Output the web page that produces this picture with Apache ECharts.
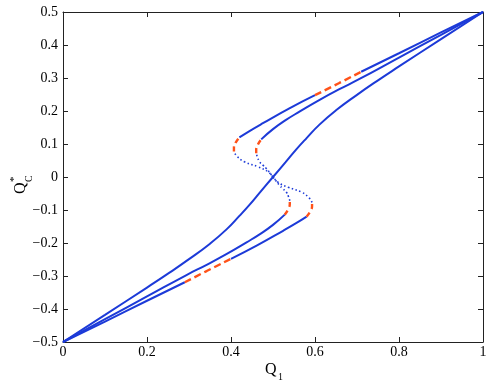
<!DOCTYPE html>
<html>
<head>
<meta charset="utf-8">
<script src="https://cdn.jsdelivr.net/npm/echarts@6/dist/echarts.min.js"></script>
<style>
  html, body { margin: 0; padding: 0; background: #fff; }
  #chart { width: 491px; height: 385px; }
</style>
</head>
<body>
<div id="chart"></div>
<script>
// ticks
const xTicks = [0, 0.2, 0.4, 0.6, 0.8, 1]
const yTicks = [-0.5, -0.4, -0.3, -0.2, -0.1, 0, 0.1, 0.2, 0.3, 0.4, 0.5]

// curve A (monotonic S), pairs of [Q1, Qc*]
const curveA = [[0, -0.5], [0.1, -0.418], [0.2, -0.335], [0.25, -0.293], [0.3, -0.249], [0.35, -0.202], [0.39, -0.158], [0.42, -0.118], [0.445, -0.083], [0.47, -0.045], [0.5, 0], [0.53, 0.045], [0.555, 0.083], [0.58, 0.118], [0.61, 0.158], [0.65, 0.202], [0.7, 0.249], [0.75, 0.293], [0.8, 0.335], [0.9, 0.418], [1, 0.5]]

// curve B (outer fold)
const bLowSolid1 = [[0, -0.5], [0.1, -0.438], [0.2, -0.375], [0.29, -0.319]]
const bLowDash = [[0.29, -0.319], [0.342, -0.285], [0.4, -0.248]]
const bLowSolid2 = [[0.4, -0.248], [0.461, -0.208], [0.524, -0.163], [0.555, -0.14], [0.58, -0.12]]
const bLowFold = [[0.58, -0.12], [0.589, -0.104], [0.593, -0.088], [0.593, -0.077]]
const bMid = [[0.593, -0.077], [0.585, -0.062], [0.568, -0.046], [0.536, -0.031], [0.512, -0.016], [0.5, 0], [0.488, 0.016], [0.464, 0.031], [0.432, 0.046], [0.415, 0.062], [0.407, 0.077]]
const bUpFold = [[0.407, 0.077], [0.407, 0.088], [0.411, 0.104], [0.42, 0.12]]
const bUpSolid1 = [[0.42, 0.12], [0.445, 0.14], [0.476, 0.163], [0.539, 0.208], [0.6, 0.248]]
const bUpDash = [[0.6, 0.248], [0.658, 0.285], [0.71, 0.319]]
const bUpSolid2 = [[0.71, 0.319], [0.8, 0.375], [0.9, 0.438], [1, 0.5]]

// curve C (inner fold)
const cLowSolid = [[0, -0.5], [0.1, -0.431], [0.2, -0.362], [0.294, -0.297], [0.342, -0.266], [0.39, -0.233], [0.437, -0.198], [0.469, -0.173], [0.5, -0.145], [0.528, -0.114]]
const cLowFold = [[0.528, -0.114], [0.536, -0.098], [0.54, -0.082], [0.54, -0.072]]
const cMid = [[0.54, -0.072], [0.537, -0.06], [0.532, -0.046], [0.524, -0.036], [0.516, -0.026], [0.5, 0], [0.484, 0.026], [0.476, 0.036], [0.468, 0.046], [0.463, 0.06], [0.46, 0.072]]
const cUpFold = [[0.46, 0.072], [0.46, 0.082], [0.464, 0.098], [0.472, 0.114]]
const cUpSolid = [[0.472, 0.114], [0.5, 0.145], [0.531, 0.173], [0.563, 0.198], [0.61, 0.233], [0.658, 0.266], [0.706, 0.297], [0.8, 0.362], [0.9, 0.431], [1, 0.5]]

const BLUE = '#1c3ad8'
const RED = '#ff5219'
const FONT = "'Liberation Serif', 'Times New Roman', serif"

function solid (data) {
  return { type: 'line', data, showSymbol: false, smooth: 0.5, silent: true, z: 2,
    lineStyle: { color: BLUE, width: 2 } }
}
function dotted (data) {
  return { type: 'line', data, showSymbol: false, smooth: 0.5, silent: true, z: 3,
    lineStyle: { color: BLUE, width: 1.6, type: [1.5, 2.5] } }
}
function dashed (data, pattern) {
  return { type: 'line', data, showSymbol: false, smooth: 0.5, silent: true, z: 4,
    lineStyle: { color: RED, width: 2.4, type: pattern || [7, 4] } }
}

function fmt (v) {
  const r = Math.round(v * 10) / 10
  if (r === 0) return '0'
  if (Math.abs(r) === 1) return r < 0 ? '−1' : '1'
  return (r < 0 ? '−' : '') + Math.abs(r).toFixed(1)
}

const chart = echarts.init(document.getElementById('chart'), null, { renderer: 'canvas' })

const axisCommon = {
  type: 'value',
  splitLine: { show: false },
  axisLine: { show: true, onZero: false, lineStyle: { color: '#222', width: 1 } },
  axisTick: { show: true, inside: true, length: 5, lineStyle: { color: '#222' } }
}

const option = {
  animation: false,
  backgroundColor: '#fff',
  grid: { left: 63, right: 8, top: 12, bottom: 43, containLabel: false },
  xAxis: [
    Object.assign({}, axisCommon, {
      min: xTicks[0], max: xTicks[xTicks.length - 1], interval: 0.2, position: 'bottom',
      axisLabel: { formatter: fmt, fontFamily: FONT, fontSize: 14, color: '#000', margin: 3 }
    }),
    Object.assign({}, axisCommon, {
      min: xTicks[0], max: xTicks[xTicks.length - 1], interval: 0.2, position: 'top',
      axisLabel: { show: false }
    })
  ],
  yAxis: [
    Object.assign({}, axisCommon, {
      min: yTicks[0], max: yTicks[yTicks.length - 1], interval: 0.1, position: 'left',
      axisLabel: { formatter: fmt, fontFamily: FONT, fontSize: 14, color: '#000', margin: 5 }
    }),
    Object.assign({}, axisCommon, {
      min: yTicks[0], max: yTicks[yTicks.length - 1], interval: 0.1, position: 'right',
      axisLabel: { show: false }
    })
  ],
  graphic: [
    { type: 'text', left: 265, top: 362, style: { text: 'Q', font: '16px ' + FONT, fill: '#000' } },
    { type: 'text', left: 278, top: 372, style: { text: '1', font: '10px ' + FONT, fill: '#000' } },
    { type: 'group', x: 29, y: 194, rotation: Math.PI / 2, children: [
      { type: 'text', x: 0, y: 0, style: { text: 'Q', font: '16px ' + FONT, fill: '#000', textVerticalAlign: 'bottom' } },
      { type: 'text', x: 12, y: 5, style: { text: 'C', font: '10px ' + FONT, fill: '#000', textVerticalAlign: 'bottom' } },
      { type: 'text', x: 12, y: -9, style: { text: '*', font: '11px ' + FONT, fill: '#000', textVerticalAlign: 'bottom' } }
    ] }
  ],
  series: [
    solid(curveA),
    solid(bLowSolid1), solid(bLowSolid2), solid(bUpSolid1), solid(bUpSolid2),
    solid(cLowSolid), solid(cUpSolid),
    dotted(bMid), dotted(cMid),
    dashed(bLowDash), dashed(bUpDash),
    dashed(bLowFold, [5, 4]), dashed(bUpFold, [5, 4]),
    dashed(cLowFold, [5, 4]), dashed(cUpFold, [5, 4])
  ]
}

chart.setOption(option)
window.addEventListener('resize', chart.resize)
</script>
</body>
</html>
